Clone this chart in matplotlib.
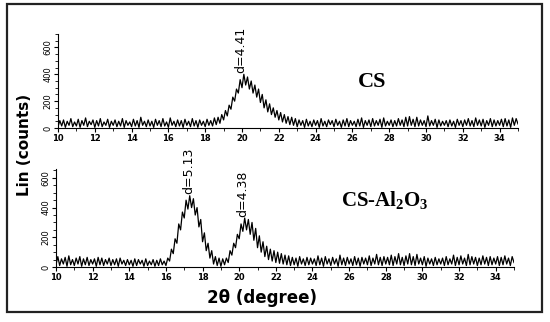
import numpy as np
from matplotlib import pyplot as plt
from matplotlib.ticker import MultipleLocator
from matplotlib.patches import Rectangle

# 2theta grid, 0.1 degree steps from 10 to 35
two_theta = np.round(np.arange(100, 351) / 10.0, 1)

cs_counts = [
    10, 55, 15, 60, 5, 50, 20, 70, 10, 45,
    15, 65, 5, 55, 20, 75, 10, 50, 25, 60,
    5, 55, 15, 70, 10, 45, 20, 65, 5, 50,
    20, 60, 10, 50, 15, 70, 5, 55, 20, 45,
    10, 65, 15, 55, 5, 80, 20, 50, 10, 60,
    15, 50, 5, 65, 20, 55, 10, 70, 15, 45,
    5, 75, 20, 50, 10, 60, 15, 55, 5, 65,
    20, 50, 10, 70, 15, 55, 5, 60, 20, 50,
    10, 65, 20, 55, 15, 75, 25, 80, 35, 100,
    60, 130, 90, 170, 140, 230, 200, 290, 260, 360,
    300, 400, 320, 380, 290, 350, 260, 320, 230, 290,
    190, 250, 150, 210, 120, 180, 100, 150, 80, 130,
    60, 115, 45, 100, 35, 85, 25, 80, 20, 70,
    10, 60, 20, 55, 5, 65, 15, 50, 10, 60,
    20, 55, 5, 70, 15, 50, 10, 60, 25, 55,
    10, 65, 20, 50, 5, 60, 15, 70, 10, 55,
    20, 50, 10, 65, 15, 75, 5, 55, 20, 60,
    10, 70, 15, 55, 20, 65, 5, 75, 15, 50,
    20, 60, 10, 55, 15, 70, 20, 60, 10, 80,
    15, 85, 20, 65, 10, 80, 15, 60, 20, 55,
    10, 90, 15, 55, 20, 65, 5, 60, 15, 50,
    20, 55, 10, 60, 15, 50, 5, 65, 20, 55,
    10, 60, 20, 70, 15, 55, 10, 75, 20, 60,
    15, 65, 5, 55, 20, 70, 10, 60, 15, 55,
    20, 65, 10, 70, 15, 60, 5, 75, 20, 70,
    30,
]

cs_al2o3_counts = [
    15, 70, 10, 55, 20, 65, 5, 75, 15, 50,
    10, 60, 20, 70, 5, 55, 15, 65, 10, 50,
    20, 55, 5, 65, 15, 60, 10, 50, 20, 60,
    10, 50, 15, 55, 5, 60, 20, 45, 10, 50,
    15, 45, 5, 55, 10, 50, 20, 45, 5, 55,
    10, 40, 15, 50, 5, 45, 10, 55, 15, 40,
    10, 60, 40, 120, 90, 190, 160, 290, 250, 370,
    330, 450, 390, 480, 400, 460, 350, 400, 270, 320,
    170, 230, 110, 160, 60, 110, 20, 70, 10, 60,
    5, 55, 15, 60, 30, 110, 80, 160, 130, 220,
    190, 290, 240, 330, 250, 320, 220, 300, 180, 260,
    130, 210, 100, 170, 70, 140, 50, 120, 40, 110,
    30, 100, 25, 90, 20, 80, 15, 75, 10, 65,
    15, 60, 5, 70, 20, 55, 10, 65, 15, 60,
    20, 55, 10, 75, 15, 60, 5, 70, 20, 55,
    10, 65, 20, 55, 5, 80, 15, 60, 10, 65,
    20, 55, 10, 70, 15, 60, 5, 65, 20, 60,
    15, 75, 10, 60, 20, 85, 15, 65, 10, 70,
    20, 65, 15, 80, 10, 70, 20, 90, 15, 65,
    10, 75, 20, 90, 15, 70, 10, 85, 20, 60,
    15, 70, 5, 60, 20, 55, 10, 65, 15, 55,
    20, 60, 10, 70, 15, 55, 20, 80, 10, 65,
    15, 75, 20, 60, 10, 85, 15, 70, 20, 65,
    10, 60, 15, 75, 20, 65, 10, 70, 15, 60,
    20, 70, 10, 65, 15, 75, 20, 60, 10, 70,
    30,
]

peak_labels_cs = [(19.95, 400, 'd=4.41')]
peak_labels_al = [(17.25, 480, 'd=5.13'), (20.2, 330, 'd=4.38')]

plt.rcParams['mathtext.fontset'] = 'custom'
plt.rcParams['mathtext.rm'] = 'Liberation Serif:bold'
plt.rcParams['mathtext.it'] = 'Liberation Serif:bold'

fig = plt.figure(figsize=(5.5, 3.22), dpi=100)
fig.patches.append(Rectangle((7/550, 1-312/322), 535/550, 308/322, transform=fig.transFigure,
                             fill=False, edgecolor='#222222', linewidth=1.6))

ax1 = fig.add_axes([58/550, 1-128/322, 460/550, 94/322])
ax2 = fig.add_axes([56/550, 1-267/322, 458/550, 98/322])

for ax, y, ymax in [(ax1, cs_counts, 700), (ax2, cs_al2o3_counts, 660)]:
    ax.plot(two_theta, y, color='black', linewidth=0.9)
    ax.set_xlim(10, 35)
    ax.set_ylim(0, ymax)
    ax.spines['top'].set_visible(False)
    ax.spines['right'].set_visible(False)
    ax.spines['left'].set_bounds(0, ymax)
    ax.xaxis.set_major_locator(MultipleLocator(2))
    ax.xaxis.set_minor_locator(MultipleLocator(1))
    ax.yaxis.set_major_locator(MultipleLocator(200))
    ax.yaxis.set_minor_locator(MultipleLocator(50))
    ax.tick_params(axis='both', which='major', length=3, width=0.8, labelsize=6, pad=1)
    ax.tick_params(axis='both', which='minor', length=2, width=0.6)
    for lbl in ax.get_xticklabels():
        lbl.set_fontweight('bold')
    for lbl in ax.get_yticklabels():
        lbl.set_rotation(90)
        lbl.set_va('center')
    ax.patch.set_alpha(0)

for x, y, s in peak_labels_cs:
    ax1.text(x, y + 10, s, rotation=90, ha='center', va='bottom', fontsize=9)
for x, y, s in peak_labels_al:
    ax2.text(x, y + 10, s, rotation=90, ha='center', va='bottom', fontsize=9)

fig.text(372/550, 1-82/322, 'CS', fontfamily='Liberation Serif', fontweight='bold',
         fontsize=16, ha='center', va='center')
fig.text(385/550, 1-200/322, r'CS-Al$_2$O$_3$', fontfamily='Liberation Serif',
         fontweight='bold', fontsize=15, ha='center', va='center')
fig.text(25/550, 1-145/322, 'Lin (counts)', rotation=90, fontweight='bold', fontsize=11,
         ha='center', va='center')
fig.text(262/550, 1-298/322, '2θ (degree)', fontweight='bold', fontsize=12,
         ha='center', va='center')

fig.savefig('out.png', dpi=100)
